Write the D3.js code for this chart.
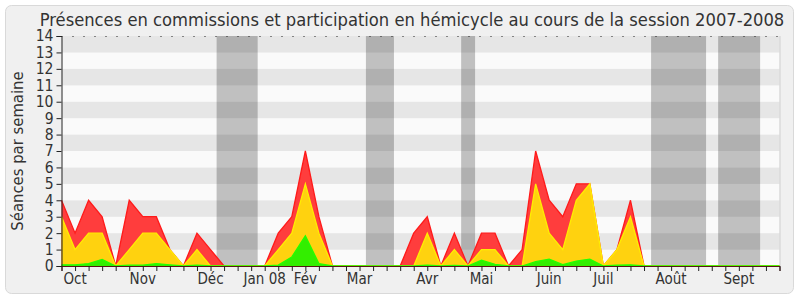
<!DOCTYPE html>
<html>
<head>
<meta charset="utf-8">
<script src="https://cdn.jsdelivr.net/npm/d3@7"></script>
<style>
  body { margin: 0; background: #ffffff; }
  text { font-family: "DejaVu Sans Condensed", "DejaVu Sans", sans-serif; fill: #333; }
</style>
</head>
<body>
<div id="chart"></div>
<script>
// Data: one point per week, from the week of 1 Oct 2007 (index 0) to index 53
var rouge = [4, 2, 4, 3, 0, 4, 3, 3, 1, 0, 2, 1, 0, 0, 0, 0, 2, 3, 7, 3, 0, 0, 0, 0, 0, 0, 2, 3, 0, 2,
             0, 2, 2, 0, 1, 7, 4, 3, 5, 5, 0, 1, 4, 0, 0, 0, 0, 0, 0, 0, 0, 0, 0, 0];
var jaune = [3, 1, 2, 2, 0, 1, 2, 2, 1, 0, 1, 0, 0, 0, 0, 0, 1, 2, 5, 2, 0, 0, 0, 0, 0, 0, 0, 2, 0, 1,
             0, 1, 1, 0, 0, 5, 2, 1, 4, 5, 0, 1, 3, 0, 0, 0, 0, 0, 0, 0, 0, 0, 0, 0];
var vert = [0.07, 0.07, 0.15, 0.4, 0, 0.05, 0.05, 0.15, 0.07, 0, 0.05, 0, 0, 0, 0, 0, 0.05, 0.55, 1.83, 0.15,
            0, 0, 0, 0, 0, 0, 0, 0.05, 0, 0.03, 0, 0.35, 0.1, 0, 0, 0.26, 0.42, 0.08, 0.3, 0.42,
            0, 0.05, 0.07, 0, 0, 0, 0, 0, 0, 0, 0, 0, 0, 0];

// Month labels and the week they sit under
var moisLabels = ["Oct", "Nov", "Déc", "Jan 08", "Fév", "Mar", "Avr", "Mai", "Juin", "Juil", "Août", "Sept"];
var moisSemaines = [1, 6, 11, 15, 18, 22, 27, 31, 36, 40, 45, 50];

// Holiday periods (in weeks)
var vacancesDebut = [11.45, 22.47, 29.5, 43.52, 48.47];
var vacancesFin = [14.48, 24.54, 30.53, 47.58, 51.57];

var yTicks = d3.range(0, 15);

// Setup the chart
var svgWidth = 800;
var svgHeight = 300;

var plot = { left: 61.5, right: 779.5, top: 36, bottom: 266 };

var svg = d3.select("#chart")
  .append("svg")
  .attr("width", svgWidth)
  .attr("height", svgHeight);

// frame
svg.append("rect")
  .attr("x", 5.5).attr("y", 5.5)
  .attr("width", 788).attr("height", 288)
  .attr("rx", 6)
  .attr("fill", "#f0f0f0")
  .attr("stroke", "#d9d9d9");

var x = d3.scaleLinear()
  .domain([0, rouge.length - 1])
  .range([plot.left, plot.right]);

var y = d3.scaleLinear()
  .domain([0, 14])
  .range([plot.bottom, plot.top]);

// alternating background rows
svg.append("g")
  .selectAll("rect")
  .data(d3.range(0, 14))
  .enter()
  .append("rect")
  .attr("x", plot.left)
  .attr("y", d => y(d + 1))
  .attr("width", plot.right - plot.left)
  .attr("height", d => y(d) - y(d + 1))
  .attr("fill", d => d % 2 ? "#e6e6e6" : "#fafafa");

// right border of plot
svg.append("line")
  .attr("x1", plot.right + 0.5).attr("x2", plot.right + 0.5)
  .attr("y1", plot.top).attr("y2", plot.bottom)
  .attr("stroke", "#cfcfcf");

// holiday bands
svg.append("g")
  .selectAll("rect")
  .data(vacancesDebut)
  .enter()
  .append("rect")
  .attr("x", d => x(d))
  .attr("y", plot.top)
  .attr("width", (d, i) => x(vacancesFin[i]) - x(d))
  .attr("height", plot.bottom - plot.top)
  .attr("fill", "#000")
  .attr("fill-opacity", 0.23);

// areas
var series = [
  { values: rouge, fill: "#ff3d3d", stroke: "#ff1a1a" },
  { values: jaune, fill: "#ffd20f", stroke: "#ffee00" },
  { values: vert, fill: "#33ee00", stroke: "#22ff00" }
];

series.forEach(function(s) {
  var area = d3.area()
    .x((d, i) => x(i))
    .y0(y(0))
    .y1(d => y(d));
  var line = d3.line()
    .x((d, i) => x(i))
    .y(d => y(d));
  svg.append("path")
    .datum(s.values)
    .attr("d", area)
    .attr("fill", s.fill);
  svg.append("path")
    .datum(s.values)
    .attr("d", line)
    .attr("fill", "none")
    .attr("stroke", s.stroke)
    .attr("stroke-width", 1.3);
});

// top dotted line
svg.append("line")
  .attr("x1", plot.left).attr("x2", plot.right)
  .attr("y1", plot.top + 0.5).attr("y2", plot.top + 0.5)
  .attr("stroke", "#222")
  .attr("stroke-dasharray", "1,10");

// Axes
var bottomAxis = d3.axisBottom(x)
  .tickValues(d3.range(0, rouge.length))
  .tickSize(5)
  .tickFormat("");

var xAxis = svg.append("g")
  .attr("transform", `translate(0, ${plot.bottom})`)
  .call(bottomAxis);
xAxis.select(".domain").attr("stroke", "#5a1515");
xAxis.selectAll(".tick line").attr("stroke", "#222");

var leftAxis = d3.axisLeft(y)
  .tickValues(yTicks)
  .tickSize(5)
  .tickPadding(3)
  .tickFormat(d3.format("d"));

var yAxis = svg.append("g")
  .attr("transform", `translate(${plot.left}, 0)`)
  .call(leftAxis);
yAxis.select(".domain").attr("stroke", "#222");
yAxis.selectAll(".tick line").attr("stroke", "#222");
yAxis.selectAll(".tick text")
  .style("font-size", "15.5px")
  .style("font-family", "'DejaVu Sans Condensed', 'DejaVu Sans', sans-serif")
  .attr("fill", "#333");

// month labels
svg.append("g")
  .selectAll("text")
  .data(moisLabels)
  .enter()
  .append("text")
  .attr("x", (d, i) => x(moisSemaines[i]))
  .attr("y", 284)
  .attr("text-anchor", "middle")
  .style("font-size", "15px")
  .text(d => d);

// axis title
svg.append("text")
  .attr("transform", "translate(23, 151) rotate(-90)")
  .attr("text-anchor", "middle")
  .style("font-size", "16.5px")
  .text("Séances par semaine");

// chart title
svg.append("text")
  .attr("x", 412)
  .attr("y", 25.5)
  .attr("text-anchor", "middle")
  .style("font-size", "18.2px")
  .text("Présences en commissions et participation en hémicycle au cours de la session 2007-2008");
</script>
</body>
</html>
